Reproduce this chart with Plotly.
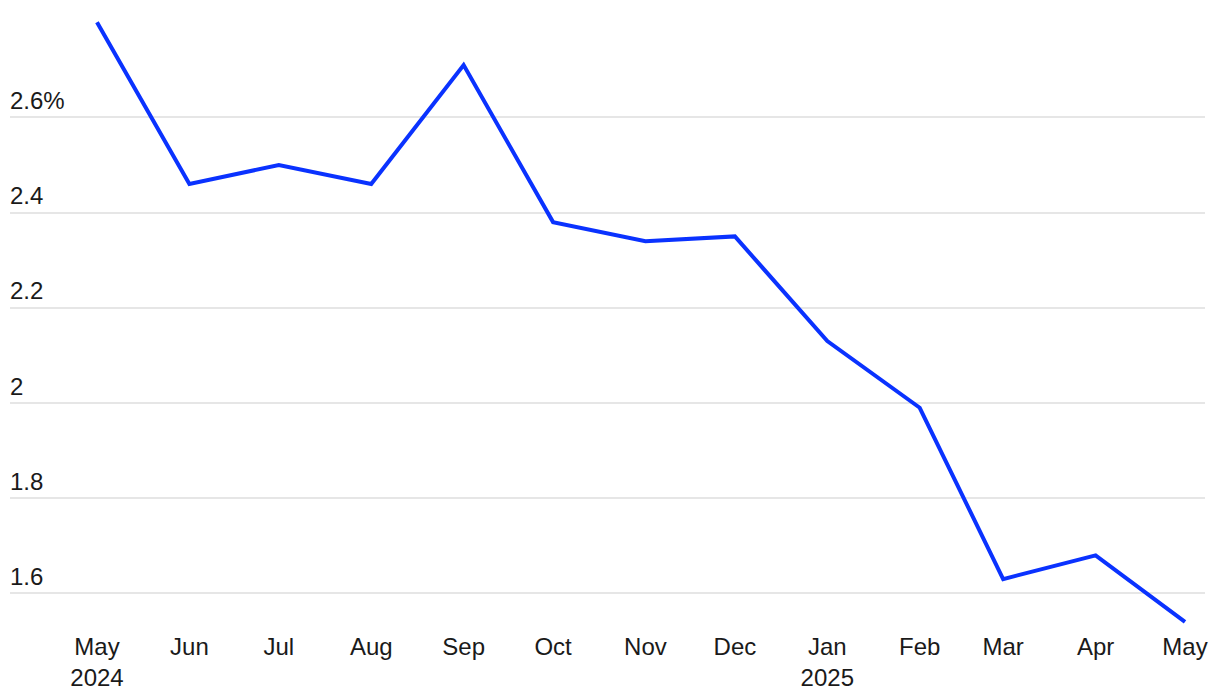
import plotly.graph_objects as go

months = ["2024-05-01", "2024-06-01", "2024-07-01", "2024-08-01", "2024-09-01", "2024-10-01",
          "2024-11-01", "2024-12-01", "2025-01-01", "2025-02-01", "2025-03-01", "2025-04-01",
          "2025-05-01"]
values = [2.80, 2.46, 2.50, 2.46, 2.71, 2.38, 2.34, 2.35, 2.13, 1.99, 1.63, 1.68, 1.54]
x_tick_labels = ["May<br>2024", "Jun", "Jul", "Aug", "Sep", "Oct", "Nov", "Dec",
                 "Jan<br>2025", "Feb", "Mar", "Apr", "May"]
y_tick_vals = [1.6, 1.8, 2.0, 2.2, 2.4, 2.6]
y_tick_labels = ["1.6", "1.8", "2", "2.2", "2.4", "2.6%"]

font_family = "Liberation Sans, Arial, sans-serif"
text_color = "#1a1a1a"

fig = go.Figure()
fig.add_trace(go.Scatter(
    x=months, y=values, mode="lines",
    line=dict(color="#0a32ff", width=4),
    hoverinfo="skip", showlegend=False,
))

fig.update_layout(
    width=1212, height=692,
    margin=dict(l=2, r=15, t=2, b=70),
    paper_bgcolor="white", plot_bgcolor="white",
    font=dict(family=font_family, size=24, color=text_color),
    xaxis=dict(
        type="date",
        range=["2024-04-01 19:40", "2025-05-07 17:00"],
        tickvals=months, ticktext=x_tick_labels,
        showgrid=False, zeroline=False, showline=False,
        ticks="", tickfont=dict(size=24, color=text_color),
    ),
    yaxis=dict(
        range=[1.5231, 2.8256],
        tickvals=y_tick_vals, ticktext=y_tick_labels,
        ticklabelposition="inside top", ticklabelstandoff=-3,
        showgrid=True, gridcolor="#e6e6e6", gridwidth=1.5,
        zeroline=False, showline=False, ticks="",
        tickfont=dict(size=24, color=text_color),
    ),
)

fig.write_html("out.html")
